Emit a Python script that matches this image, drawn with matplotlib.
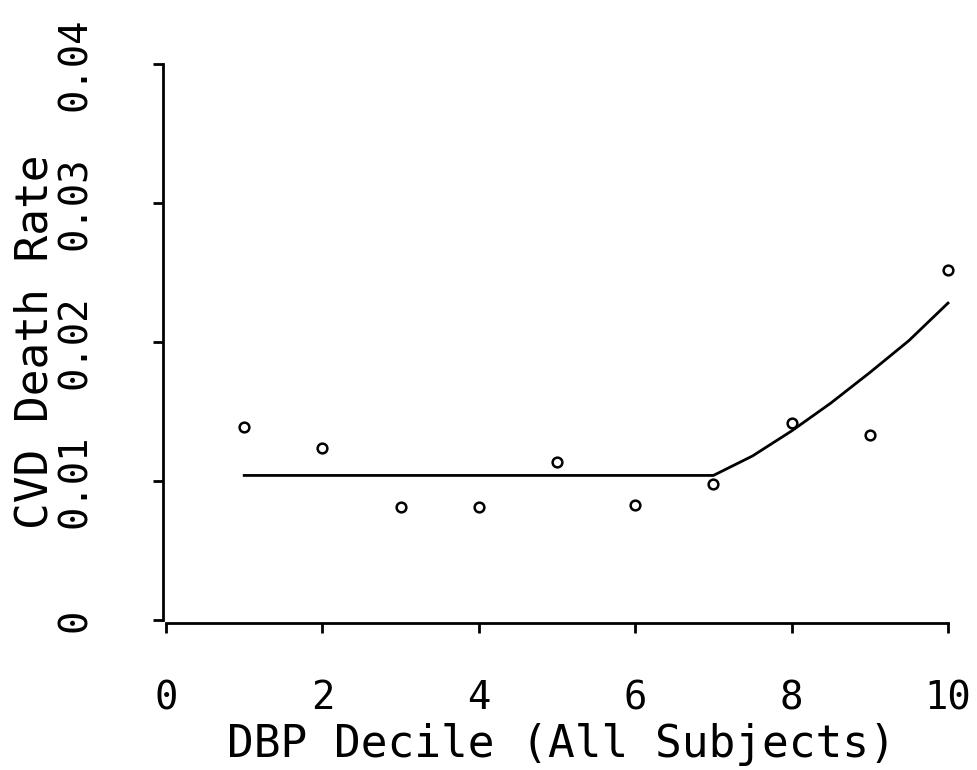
import matplotlib
matplotlib.use('Agg')
import matplotlib.pyplot as plt

# observed CVD death rate per DBP decile
decile = [1, 2, 3, 4, 5, 6, 7, 8, 9, 10]
rate = [0.0139, 0.0124, 0.0081, 0.0081, 0.0114, 0.0083, 0.0098, 0.0142, 0.0133, 0.0252]

# fitted curve: flat up to decile 7, then rising
fit_x = [1, 7, 7.5, 8, 8.5, 9, 9.5, 10]
fit_y = [0.0104, 0.0104, 0.0118, 0.0136, 0.0156, 0.0178, 0.0201, 0.0228]

xticks = [0, 2, 4, 6, 8, 10]
yticks = [0, 0.01, 0.02, 0.03, 0.04]
ytick_labels = ['0', '0.01', '0.02', '0.03', '0.04']

plt.rcParams['font.family'] = ['DejaVu Sans Mono']

fig = plt.figure(figsize=(9.78, 7.70), dpi=100)
W, H = 978, 770
left, right, top, bottom = 166, 948, 64, 620
ax = fig.add_axes([left / W, (H - bottom) / H, (right - left) / W, (bottom - top) / H])

ax.plot(decile, rate, linestyle='none', marker='o', markersize=7,
        markerfacecolor='white', markeredgecolor='black', markeredgewidth=1.8,
        clip_on=False)
ax.plot(fit_x, fit_y, color='black', linewidth=2, clip_on=False)

ax.set_xlim(0, 10)
ax.set_ylim(0, 0.04)
ax.set_xticks(xticks)
ax.set_yticks(yticks)
ax.set_yticklabels(ytick_labels)

ax.spines['top'].set_visible(False)
ax.spines['right'].set_visible(False)
ax.spines['left'].set_linewidth(2)
ax.spines['bottom'].set_linewidth(2)
ax.spines['bottom'].set_position(('outward', 2))
ax.spines['left'].set_position(('outward', 2))

ax.tick_params(axis='both', direction='out', length=7.5, width=2, labelsize=28)
ax.tick_params(axis='x', pad=33)
ax.tick_params(axis='y', pad=42, labelrotation=90)
for lbl in ax.get_yticklabels():
    lbl.set_verticalalignment('center')

ax.set_xlabel('DBP Decile (All Subjects)', fontsize=32)
ax.set_ylabel('CVD Death Rate', fontsize=32)
ax.xaxis.set_label_coords(0.505, -0.185)
ax.yaxis.set_label_coords(-0.14, 0.5)

fig.savefig('out.png', dpi=100)
